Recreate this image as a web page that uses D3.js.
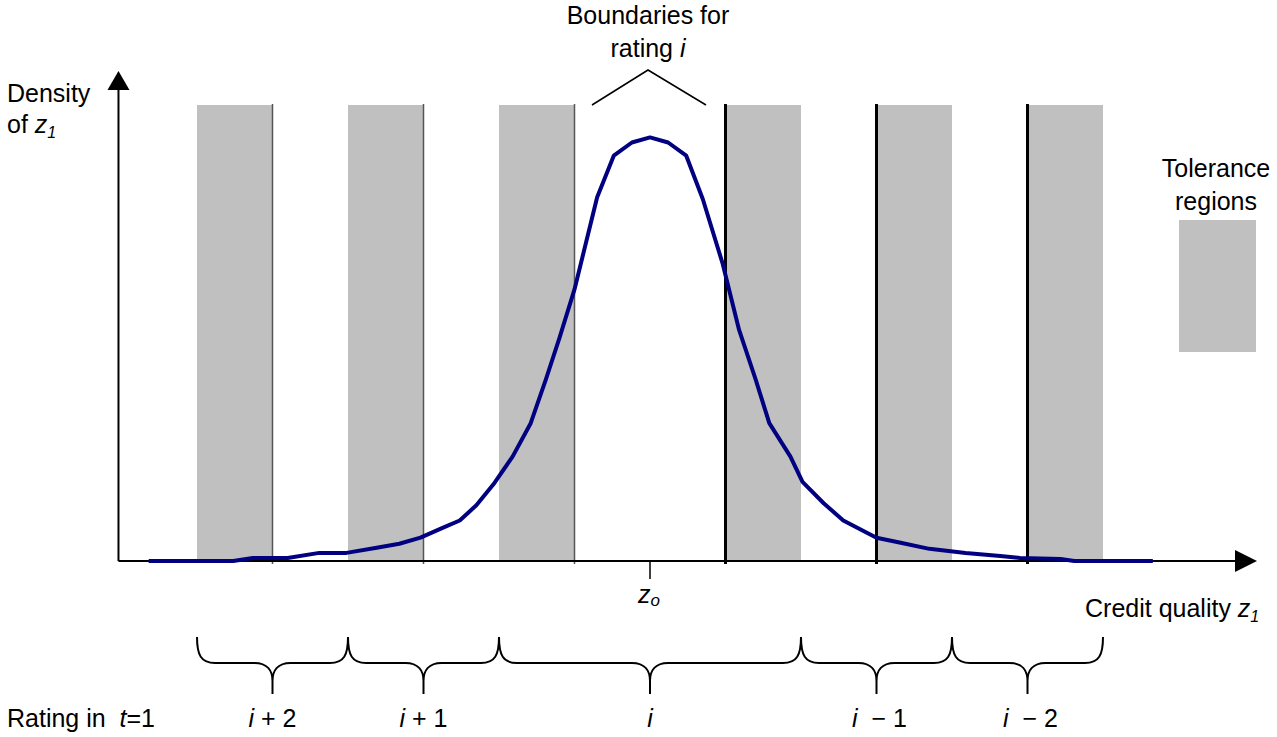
<!DOCTYPE html>
<html>
<head>
<meta charset="utf-8">
<script src="https://cdn.jsdelivr.net/npm/d3@7"></script>
<style>
  html, body { margin: 0; padding: 0; background: #fff; }
  svg { display: block; }
  text { font-family: Arial, "Liberation Sans", sans-serif; fill: #000; }
</style>
</head>
<body>
<svg id="chart" width="1277" height="737"></svg>
<script>
// ---- data ----
const zGrid = [-3.32, -2.76, -2.63, -2.40, -2.19, -2.01, -1.81, -1.66, -1.52, -1.37, -1.26, -1.15, -1.03,
  -0.91, -0.79, -0.69, -0.60, -0.50, -0.35, -0.24, -0.12, 0, 0.12, 0.24, 0.35, 0.48, 0.59, 0.70, 0.79,
  0.93, 1.01, 1.15, 1.28, 1.50, 1.66, 1.85, 2.09, 2.32, 2.45, 2.72, 2.81, 3.33];
const density = [0, 0, 0.003, 0.003, 0.008, 0.008, 0.013, 0.017, 0.023, 0.033, 0.040, 0.055, 0.077,
  0.103, 0.136, 0.179, 0.220, 0.268, 0.359, 0.400, 0.413, 0.418, 0.413, 0.400, 0.357, 0.294, 0.228, 0.179, 0.136,
  0.103, 0.078, 0.057, 0.040, 0.023, 0.018, 0.012, 0.008, 0.005, 0.003, 0.002, 0, 0];
const toleranceStart = [-3, -2, -1, 0.5, 1.5, 2.5];
const toleranceEnd = [-2.5, -1.5, -0.5, 1, 2, 3];
const thinBoundaries = [-2.5, -1.5, -0.5];
const thickBoundaries = [0.5, 1.5, 2.5];
const braceStart = [-3, -2, -1, 1, 2];
const braceEnd = [-2, -1, 1, 2, 3];
const braceMid = [-2.5, -1.5, 0, 1.5, 2.5];
const ratingOffset = ["+ 2", "+ 1", "", "\u2212 1", "\u2212 2"];
const densityTop = 0.45;
const axisMin = -3.52, axisMax = 4.02;

// ---- scales ----
const svg = d3.select("#chart");
const x = d3.scaleLinear().domain([-1, 1]).range([499, 801]);
const y = d3.scaleLinear().domain([0, densityTop]).range([561, 105]);

// tolerance regions
svg.append("g").selectAll("rect").data(toleranceStart).join("rect")
  .attr("x", (d) => x(d))
  .attr("y", y(densityTop))
  .attr("width", (d, i) => x(toleranceEnd[i]) - x(d))
  .attr("height", y(0) - y(densityTop))
  .attr("fill", "#c0c0c0");

// thin boundaries
svg.append("g").selectAll("line").data(thinBoundaries).join("line")
  .attr("x1", (d) => x(d)).attr("x2", (d) => x(d))
  .attr("y1", y(densityTop) - 1).attr("y2", y(0) + 3)
  .attr("stroke", "#555").attr("stroke-width", 1.5);

// thick boundaries
svg.append("g").selectAll("line").data(thickBoundaries).join("line")
  .attr("x1", (d) => x(d)).attr("x2", (d) => x(d))
  .attr("y1", y(densityTop) - 1).attr("y2", y(0) + 3)
  .attr("stroke", "#000").attr("stroke-width", 3);

// axes
const x0 = x(axisMin), x1 = x(axisMax), yBase = y(0);
svg.append("line").attr("x1", x0).attr("x2", x1 - 18).attr("y1", yBase).attr("y2", yBase)
  .attr("stroke", "#000").attr("stroke-width", 2);
svg.append("path").attr("d", `M${x1},${yBase} L${x1 - 22},${yBase - 11} L${x1 - 22},${yBase + 11} Z`).attr("fill", "#000");
svg.append("line").attr("x1", x0).attr("x2", x0).attr("y1", yBase).attr("y2", 88)
  .attr("stroke", "#000").attr("stroke-width", 2);
svg.append("path").attr("d", `M${x0},71 L${x0 - 11},90 L${x0 + 11},90 Z`).attr("fill", "#000");

// z_o tick
svg.append("line").attr("x1", x(0)).attr("x2", x(0)).attr("y1", yBase).attr("y2", yBase + 18)
  .attr("stroke", "#000").attr("stroke-width", 1.5);

// density curve
const line = d3.line().x((d, i) => x(zGrid[i])).y((d) => y(d));
svg.append("path").datum(density).attr("d", line)
  .attr("fill", "none").attr("stroke", "#000080").attr("stroke-width", 4)
  .attr("stroke-linejoin", "round");

// braces
const bTop = 637, bMid = 663, bTip = 694;
function brace(a, b, m) {
  const xa = x(a), xb = x(b), xm = x(m);
  return `M${xa},${bTop} C${xa},${bMid - 8} ${xa + 4},${bMid} ${xa + 18},${bMid}` +
    ` L${xm - 18},${bMid} C${xm - 5},${bMid} ${xm},${bMid + 8} ${xm},${bMid + 18} L${xm},${bTip}` +
    ` M${xm},${bMid + 18} C${xm},${bMid + 8} ${xm + 5},${bMid} ${xm + 18},${bMid}` +
    ` L${xb - 18},${bMid} C${xb - 4},${bMid} ${xb},${bMid - 8} ${xb},${bTop}`;
}
svg.append("g").selectAll("path").data(braceStart).join("path")
  .attr("d", (d, i) => brace(d, braceEnd[i], braceMid[i]))
  .attr("fill", "none").attr("stroke", "#000").attr("stroke-width", 2);

// boundaries callout bracket
svg.append("path").attr("d", "M592,105 L648,70 L706,105").attr("fill", "none")
  .attr("stroke", "#000").attr("stroke-width", 1.5);

// legend swatch
svg.append("rect").attr("x", 1179).attr("y", 220).attr("width", 77).attr("height", 132).attr("fill", "#c0c0c0");

// ---- texts ----
const fs = 25;
function t(xp, yp, anchor) {
  return svg.append("text").attr("x", xp).attr("y", yp).attr("text-anchor", anchor || "start").attr("font-size", fs);
}
t(7, 102).text("Density");
const of = t(7, 133);
of.append("tspan").text("of ");
of.append("tspan").attr("font-style", "italic").text("z");
of.append("tspan").attr("font-style", "italic").attr("font-size", 16).attr("dy", 5).text("1");

t(648, 24, "middle").text("Boundaries for");
const rt = t(648, 57, "middle");
rt.append("tspan").text("rating ");
rt.append("tspan").attr("font-style", "italic").text("i");

t(1216, 177, "middle").text("Tolerance");
t(1216, 210, "middle").text("regions");

const zo = t(x(0) - 12, 603);
zo.append("tspan").attr("font-style", "italic").text("z");
zo.append("tspan").attr("font-style", "italic").attr("font-size", 17).attr("dy", 3).text("o");

const cq = t(1085, 617);
cq.append("tspan").text("Credit quality ");
cq.append("tspan").attr("font-style", "italic").text("z");
cq.append("tspan").attr("font-style", "italic").attr("font-size", 16).attr("dy", 5).text("1");

const rin = t(7, 727);
rin.append("tspan").text("Rating in\u00a0 ");
rin.append("tspan").attr("font-style", "italic").text("t");
rin.append("tspan").text("=1");

braceMid.forEach((m, i) => {
  const lab = t(x(m) + (i > 2 ? 3 : 0), 727, "middle");
  lab.append("tspan").attr("font-style", "italic").text("i");
  if (ratingOffset[i]) lab.append("tspan").text((i > 2 ? "\u00a0 " : " ") + ratingOffset[i]);
});
</script>
</body>
</html>
